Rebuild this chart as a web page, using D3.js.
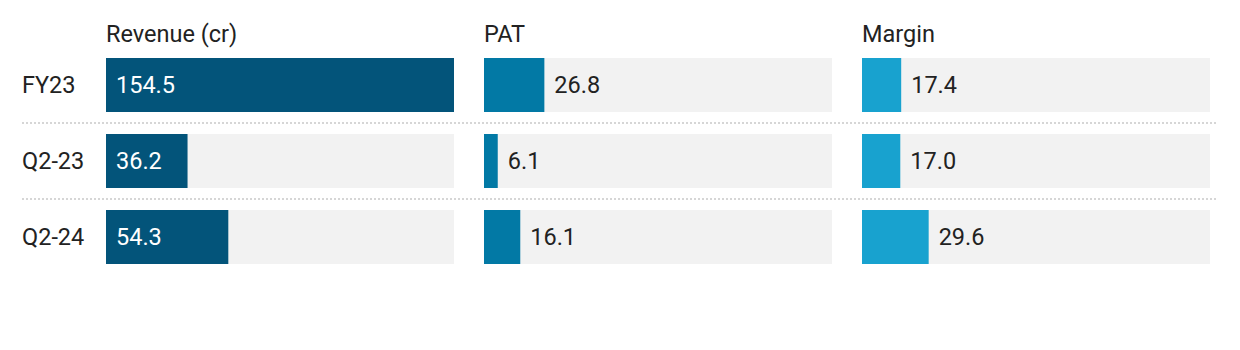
<!DOCTYPE html>
<html>
<head>
<meta charset="utf-8">
<script src="https://cdn.jsdelivr.net/npm/d3@7"></script>
<style>
  html, body { margin: 0; padding: 0; background: #fff; }
  svg text { font-family: Roboto, "Noto Sans", sans-serif; }
</style>
</head>
<body>
<svg id="chart" width="1240" height="350"></svg>
<script>
// Periods shown as rows
const periods = ["FY23", "Q2-23", "Q2-24"];
// Column headers
const metrics = ["Revenue (cr)", "PAT", "Margin"];
// Values per column
const revenue = [154.5, 36.2, 54.3];
const pat = [26.8, 6.1, 16.1];
const margin = [17.4, 17.0, 29.6];

const columns = [
  { name: metrics[0], values: revenue, color: "#03547a", inside: true },
  { name: metrics[1], values: pat, color: "#0279a5", inside: false },
  { name: metrics[2], values: margin, color: "#18a2cf", inside: false }
];

const svg = d3.select("#chart");
const panelWidth = 348;
const panelX = d3.scalePoint().domain(metrics).range([106, 862]);
const y = d3.scaleBand().domain(periods).range([58, 264]).paddingInner(22 / 76).paddingOuter(0);
// one shared value scale for every column
const maxVal = d3.max([...revenue, ...pat, ...margin]);
const x = d3.scaleLinear().domain([0, maxVal]).range([0, panelWidth]);

const fontSize = 23.5;

// row labels
svg.selectAll("text.row")
  .data(periods)
  .join("text")
  .attr("class", "row")
  .attr("x", 22)
  .attr("y", d => y(d) + y.bandwidth() / 2)
  .attr("dy", "0.33em")
  .attr("font-size", fontSize)
  .attr("fill", "#222")
  .text(d => d);

// dotted separators between rows
svg.selectAll("line.sep")
  .data(periods.slice(1))
  .join("line")
  .attr("class", "sep")
  .attr("x1", 22).attr("x2", 1218)
  .attr("y1", d => y(d) - 11).attr("y2", d => y(d) - 11)
  .attr("stroke", "#d6d6d6")
  .attr("stroke-width", 2)
  .attr("stroke-dasharray", "2,2");

columns.forEach(col => {
  const g = svg.append("g").attr("transform", `translate(${panelX(col.name)},0)`);

  g.append("text")
    .attr("x", 0)
    .attr("y", 42)
    .attr("font-size", fontSize)
    .attr("fill", "#222")
    .text(col.name);

  const rows = g.selectAll("g.row")
    .data(periods.map((p, i) => ({ p, v: col.values[i] })))
    .join("g")
    .attr("transform", d => `translate(0,${y(d.p)})`);

  rows.append("rect")
    .attr("width", panelWidth)
    .attr("height", y.bandwidth())
    .attr("fill", "#f2f2f2");

  rows.append("rect")
    .attr("width", d => x(d.v))
    .attr("height", y.bandwidth())
    .attr("fill", col.color);

  rows.append("text")
    .attr("x", d => col.inside ? 10 : x(d.v) + 10)
    .attr("y", y.bandwidth() / 2)
    .attr("dy", "0.33em")
    .attr("font-size", fontSize)
    .attr("fill", col.inside ? "#fff" : "#222")
    .text(d => d.v.toFixed(1));
});
</script>
</body>
</html>
